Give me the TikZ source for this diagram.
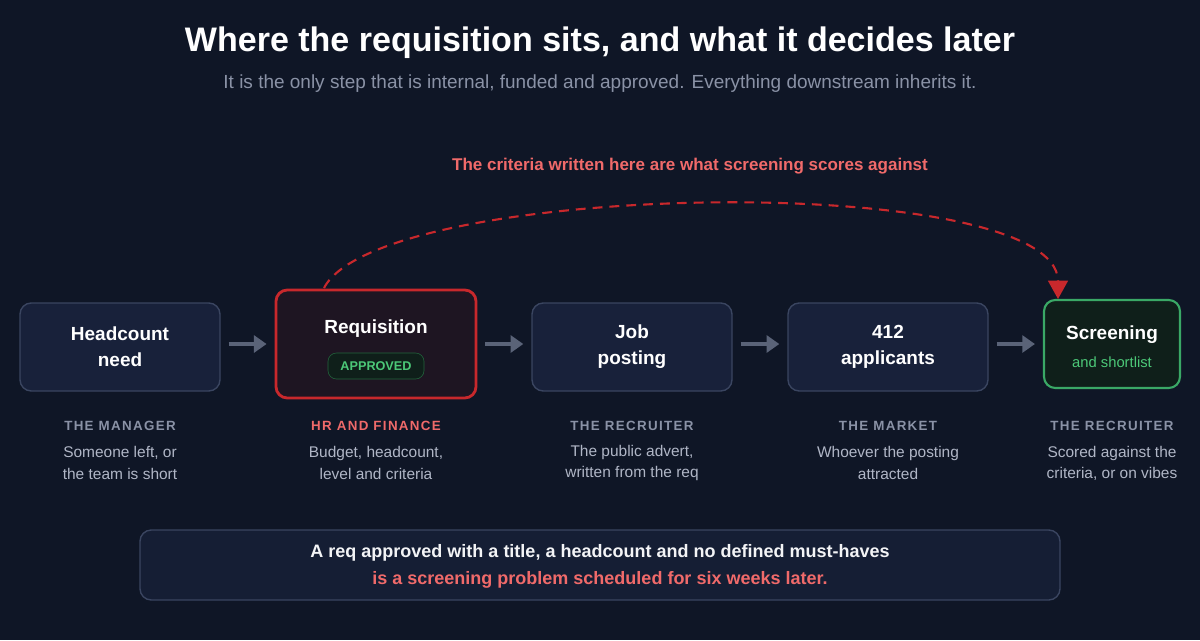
\documentclass[tikz,border=0pt]{standalone}
\usepackage{fontspec}
\setmainfont{Liberation Sans}
\usetikzlibrary{arrows.meta}
\definecolor{bgc}{HTML}{0F1626}
\definecolor{boxfill}{HTML}{18213A}
\definecolor{boxline}{HTML}{3A4560}
\definecolor{reqfill}{HTML}{1E1522}
\definecolor{reqline}{HTML}{C8282C}
\definecolor{scrfill}{HTML}{0F1F1A}
\definecolor{scrline}{HTML}{3AA866}
\definecolor{okgreen}{HTML}{4CC878}
\definecolor{softred}{HTML}{F06A6A}
\definecolor{greytxt}{HTML}{8A92A6}
\definecolor{desctxt}{HTML}{B0B6C6}
\definecolor{arrowc}{HTML}{5A6378}
\newcommand{\fs}[2]{\fontsize{#1}{#2}\selectfont}
\tikzset{
  stage/.style={draw=boxline, line width=1pt, fill=boxfill, rounded corners=8pt,
    minimum width=200*0.025cm, minimum height=88*0.025cm, align=center,
    text=white, font=\fs{13.5}{18.5}\bfseries},
  role/.style={text=greytxt, font=\fs{9.5}{11}\bfseries},
  desc/.style={text=desctxt, font=\fs{11}{15}, align=center},
  flow/.style={arrowc, line width=2.5pt, shorten <=8*0.025cm, shorten >=8*0.025cm,
    -{Triangle[length=9pt,width=12pt]}}
}
\begin{document}
\begin{tikzpicture}[x=0.025cm, y=-0.025cm]
  \fill[bgc] (0,0) rectangle (1200,640);
  \node (title) at (600,43) {\color{white}\fs{24.2}{28}\bfseries Where the requisition sits, and what it decides later};
  \node (sub) at (600,84) {\color{greytxt}\fs{13.5}{16}It is the only step that is internal, funded and approved. Everything downstream inherits it.};
  \node (note) at (690,166) {\color{softred}\fs{12.1}{14}\bfseries The criteria written here are what screening scores against};

  \node[stage] (need) at (120,347) {Headcount\\need};
  \node[stage, draw=reqline, line width=2pt, fill=reqfill, minimum height=108*0.025cm] (req) at (376,344) {};
  \node[text=white, font=\fs{13.5}{16}\bfseries] (reqt) at (376,329) {Requisition};
  \node[draw=scrline!60!black, fill=scrfill, rounded corners=6pt, minimum width=96*0.025cm,
    minimum height=26*0.025cm, text=okgreen, font=\fs{9}{11}\bfseries] (badge) at (376,366) {APPROVED};
  \node[stage] (post) at (632,347) {Job\\posting};
  \node[stage] (apps) at (888,347) {412\\applicants};
  \node[stage, draw=scrline, line width=1.5pt, fill=scrfill, minimum width=136*0.025cm] (scr) at (1112,344) {};
  \node[text=white, font=\fs{13.5}{16}\bfseries] (scrt) at (1112,335) {Screening};
  \node[text=okgreen, font=\fs{10.5}{12}] (scrs) at (1112,362) {and shortlist};

  \draw[flow] (need.east |- scr) -- (req.west |- scr);
  \draw[flow] (req) -- (post.west |- req);
  \draw[flow] (post.east |- req) -- (apps.west |- req);
  \draw[flow] (apps.east |- scr) -- (scr);

  \coordinate (from) at (324,288);
  \coordinate (to) at (1058,299);
  \draw[reqline, line width=1.5pt, dash pattern=on 7pt off 5pt, -{Triangle[length=13pt,width=14pt]}]
    (from) .. controls (380,180) and (1058,170) .. (to);

  \foreach \x/\c/\r/\a/\b in {120/greytxt/{THE MANAGER}/{Someone left, or}/{the team is short},
      376/softred/{HR AND FINANCE}/{Budget, headcount,}/{level and criteria},
      632/greytxt/{THE RECRUITER}/{The public advert,}/{written from the req},
      888/greytxt/{THE MARKET}/{Whoever the posting}/{attracted},
      1112/greytxt/{THE RECRUITER}/{Scored against the}/{criteria, or on vibes}}{
    \node[role, text=\c] (r\x) at (\x,426) {\addfontfeature{LetterSpace=10}\r};
    \node[desc] (d\x) at (\x,463) {\a\\\b};
  }

  \node[draw=boxline, line width=1pt, fill=boxfill!70!bgc, rounded corners=8pt,
    minimum width=920*0.025cm, minimum height=70*0.025cm] (box) at (600,565) {};
  \node[text=white!90!greytxt, font=\fs{12.8}{15}\bfseries] (b1) at (600,553) {A req approved with a title, a headcount and no defined must-haves};
  \node[text=softred, font=\fs{12.8}{15}\bfseries] (b2) at (600,580) {is a screening problem scheduled for six weeks later.};
\end{tikzpicture}
\end{document}
